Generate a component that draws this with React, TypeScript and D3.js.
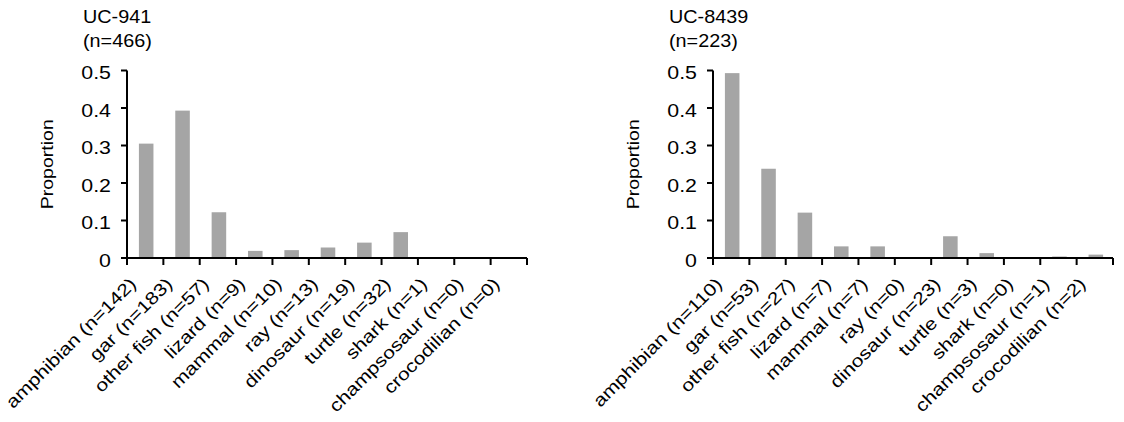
import React from "react";
import * as d3 from "d3";

const categoriesA = [
  "amphibian (n=142)", "gar (n=183)", "other fish (n=57)", "lizard (n=9)", "mammal (n=10)",
  "ray (n=13)", "dinosaur (n=19)", "turtle (n=32)", "shark (n=1)", "champsosaur (n=0)", "crocodilian (n=0)",
];
const valuesA = [0.305, 0.393, 0.122, 0.019, 0.021, 0.028, 0.041, 0.069, 0.002, 0, 0];

const categoriesB = [
  "amphibian (n=110)", "gar (n=53)", "other fish (n=27)", "lizard (n=7)", "mammal (n=7)",
  "ray (n=0)", "dinosaur (n=23)", "turtle (n=3)", "shark (n=0)", "champsosaur (n=1)", "crocodilian (n=2)",
];
const valuesB = [0.493, 0.238, 0.121, 0.031, 0.031, 0, 0.058, 0.013, 0, 0.004, 0.009];

const yTicks = [0, 0.1, 0.2, 0.3, 0.4, 0.5];
const titleA = ["UC-941", "(n=466)"];
const titleB = ["UC-8439", "(n=223)"];
const yLabel = "Proportion";

const FONT = "'Liberation Sans', Arial, sans-serif";
const BAR = "#a5a5a5";

type PanelProps = { x0: number; cats: string[]; vals: number[]; title: string[] };

function Panel({ x0, cats, vals, title }: PanelProps) {
  const width = 400;
  const yBase = 258;
  const yTop = 70.5;
  const x = d3.scaleBand<string>().domain(cats).range([x0, x0 + width]).paddingInner(0.6).paddingOuter(0.3);
  const y = d3.scaleLinear().domain([0, 0.5]).range([yBase, yTop]);
  const step = x.step();
  const bounds = d3.range(cats.length + 1).map((i) => x0 + i * step);
  const midY = (y(0) + y(0.5)) / 2;
  return (
    <g fontFamily={FONT} fill="#000">
      {/* title */}
      <text transform={`translate(${x0 - 44},23) scale(1.1,1)`} fontSize={18}>{title[0]}</text>
      <text transform={`translate(${x0 - 44},47) scale(1.1,1)`} fontSize={18}>{title[1]}</text>
      {/* y axis title */}
      <text transform={`translate(${x0 - 74},${midY}) rotate(-90) scale(1.15,1)`} fontSize={17} textAnchor="middle">
        {yLabel}
      </text>
      {/* bars */}
      {vals.map((v, i) => (
        <rect key={i} x={x(cats[i])! + 1} y={y(v)} width={x.bandwidth()} height={y(0) - y(v)} fill={BAR} />
      ))}
      {/* y axis */}
      <line x1={x0} x2={x0} y1={y(0.5)} y2={y(0)} stroke="#000" strokeWidth={2} />
      {yTicks.map((t) => (
        <g key={t}>
          <line x1={x0 - 6} x2={x0} y1={y(t)} y2={y(t)} stroke="#000" strokeWidth={2} />
          <text transform={`translate(${x0 - 16},${y(t) + 8.5}) scale(1.22,1)`} fontSize={17.5} textAnchor="end">
            {d3.format("")(t)}
          </text>
        </g>
      ))}
      {/* x axis */}
      <line x1={x0 - 6} x2={x0 + width} y1={y(0)} y2={y(0)} stroke="#000" strokeWidth={2} />
      {bounds.map((b, i) => (
        <line key={i} x1={b} x2={b} y1={y(0)} y2={y(0) + 7} stroke="#000" strokeWidth={2} />
      ))}
      {cats.map((c) => (
        <text
          key={c}
          transform={`translate(${x(c)! + x.bandwidth() / 2 - 8},${y(0) + 27}) rotate(-45) scale(1.2,1)`}
          fontSize={17.5}
          textAnchor="end"
        >
          {c}
        </text>
      ))}
    </g>
  );
}

export default function App() {
  return (
    <svg width={1124} height={422} style={{ position: "absolute", left: 0, top: 0, background: "#fff" }}>
      <rect width={1124} height={422} fill="#fff" />
      <Panel x0={127} cats={categoriesA} vals={valuesA} title={titleA} />
      <Panel x0={713} cats={categoriesB} vals={valuesB} title={titleB} />
    </svg>
  );
}
